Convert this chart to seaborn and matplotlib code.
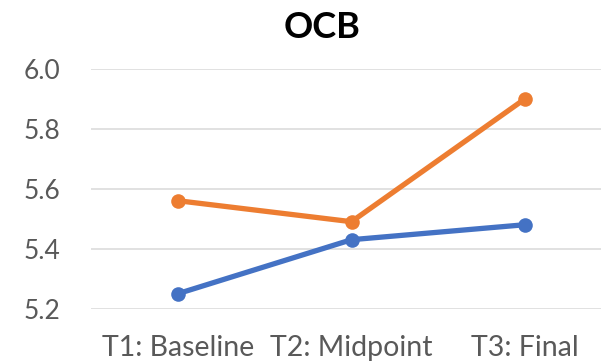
import matplotlib
matplotlib.use("Agg")
import matplotlib.pyplot as plt
import seaborn as sns
import pandas as pd

# data
times = ["T1: Baseline", "T2: Midpoint", "T3: Final"]
group_a = [5.25, 5.43, 5.48]   # blue
group_b = [5.56, 5.49, 5.90]   # orange

df = pd.DataFrame({
    "time": times * 2,
    "OCB": group_a + group_b,
    "group": ["A"] * 3 + ["B"] * 3,
})

sns.set_style("white")
plt.rcParams["font.family"] = ["Lato", "DejaVu Sans"]

fig = plt.figure(figsize=(6.01, 3.64), dpi=100)
ax = fig.add_axes([91 / 601, 55.3 / 364, 521 / 601, 240 / 364])

sns.lineplot(data=df, x="time", y="OCB", hue="group",
             palette=["#4472C4", "#ED7D31"], marker="o", markersize=10.5,
             markeredgewidth=0, linewidth=3.8, legend=False, ax=ax, sort=False)

ax.set_xlim(-0.5, 2.5)
ax.set_ylim(5.2, 6.0)
ax.set_yticks([5.2, 5.4, 5.6, 5.8, 6.0])
ax.set_yticklabels([f"{v:.1f}" for v in [5.2, 5.4, 5.6, 5.8, 6.0]])
ax.grid(axis="y", color="#D9D9D9", linewidth=1.1)
ax.set_axisbelow(True)
for s in ax.spines.values():
    s.set_visible(False)
ax.tick_params(axis="both", length=0, colors="#595959")
ax.tick_params(axis="y", pad=22, labelsize=19)
ax.tick_params(axis="x", pad=19, labelsize=20.5)
ax.set_xlabel("")
ax.set_ylabel("")

fig.text(322 / 601, 1 - 28 / 364, "OCB", ha="center", va="center",
         fontsize=26, fontweight="bold", color="black")

fig.savefig("out.png", dpi=100)
